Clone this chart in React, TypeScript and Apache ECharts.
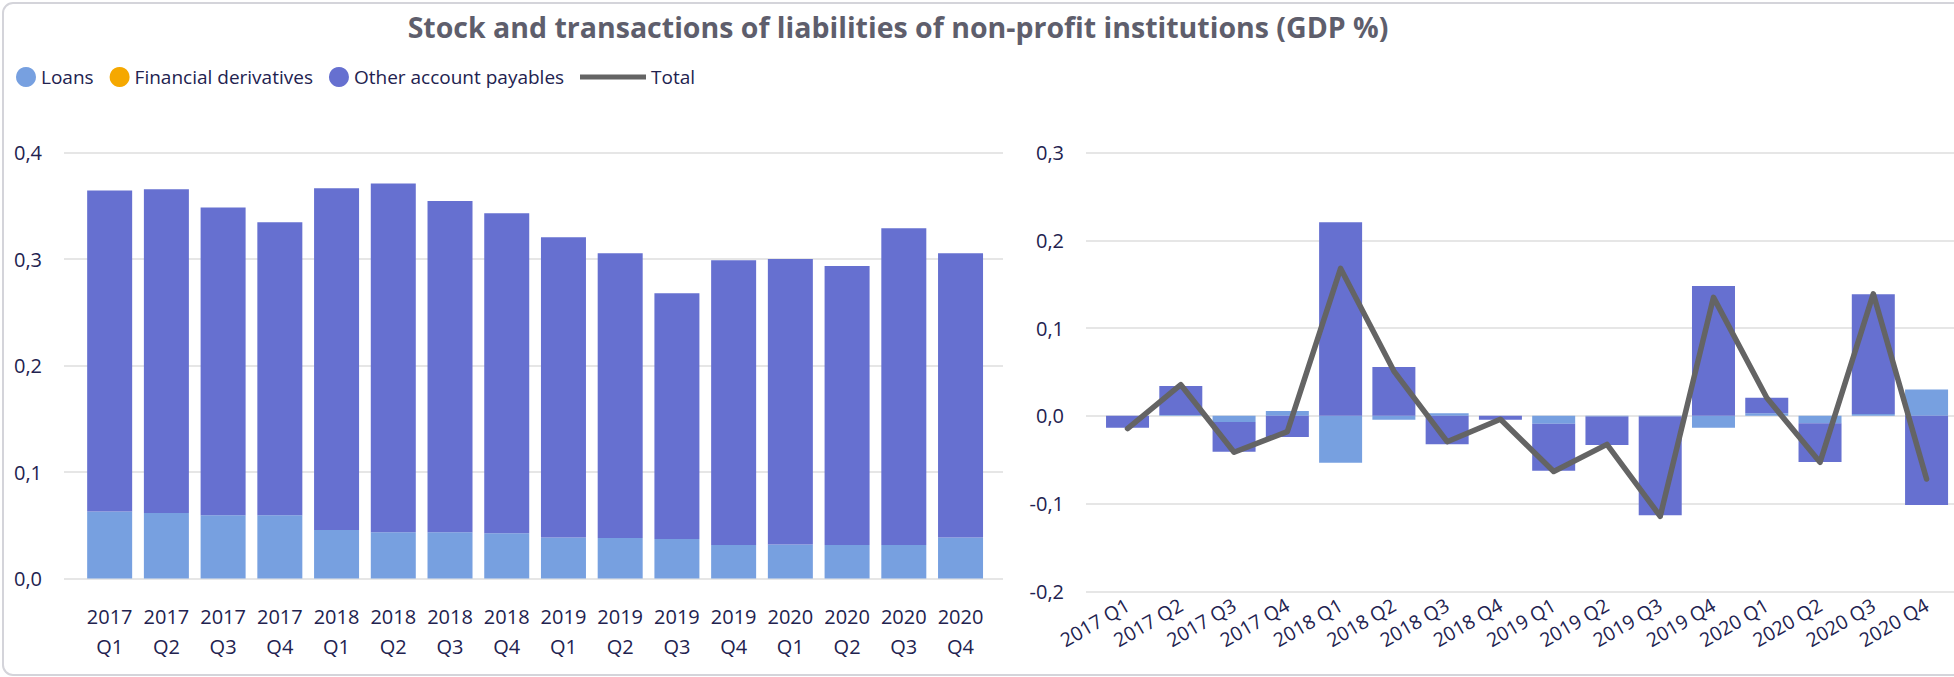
import React, { useEffect, useRef } from "react";
import * as echarts from "echarts";

const categories = [
  "2017 Q1", "2017 Q2", "2017 Q3", "2017 Q4",
  "2018 Q1", "2018 Q2", "2018 Q3", "2018 Q4",
  "2019 Q1", "2019 Q2", "2019 Q3", "2019 Q4",
  "2020 Q1", "2020 Q2", "2020 Q3", "2020 Q4",
];

// Stock (left chart), % of GDP
const stockLoans = [0.063, 0.0615, 0.0595, 0.0595, 0.0455, 0.0435, 0.0435, 0.0425, 0.0385, 0.038, 0.037, 0.0315, 0.032, 0.0315, 0.0315, 0.0385];
const stockDerivatives = [0, 0, 0, 0, 0, 0, 0, 0, 0, 0, 0, 0, 0, 0, 0, 0];
const stockOther = [0.3015, 0.304, 0.289, 0.275, 0.321, 0.3275, 0.311, 0.3005, 0.282, 0.2675, 0.231, 0.2675, 0.268, 0.262, 0.2975, 0.267];

// Transactions (right chart), % of GDP
const flowLoans = [0, 0.001, -0.007, 0.0055, -0.0535, -0.0045, 0.003, 0, -0.009, -0.0008, -0.0008, -0.0135, 0.003, -0.0085, 0.002, 0.03];
const flowDerivatives = [0, 0, 0, 0, 0, 0, 0, 0, 0, 0, 0, 0, 0, 0, 0, 0];
const flowOther = [-0.0135, 0.033, -0.034, -0.024, 0.2205, 0.0555, -0.0325, -0.0045, -0.0535, -0.0325, -0.1125, 0.148, 0.0175, -0.044, 0.1365, -0.1015];
const flowTotal = [-0.0145, 0.0355, -0.0415, -0.018, 0.168, 0.051, -0.0295, -0.004, -0.0635, -0.0325, -0.1145, 0.135, 0.0205, -0.053, 0.139, -0.072];

const TITLE = "Stock and transactions of liabilities of non-profit institutions (GDP %)";
const FONT = "'Open Sans', sans-serif";
const TEXT = "#22224f";
const C_LOANS = "#77a0e0";
const C_DERIV = "#f5a800";
const C_OTHER = "#6670d0";
const C_TOTAL = "#646464";
const GRID_LINE = "#e6e6e6";

const fmt = (v: number) => v.toFixed(1).replace(".", ",");

export default function App() {
  const ref = useRef<HTMLDivElement>(null);
  useEffect(() => {
    if (!ref.current) return;
    const chart = echarts.init(ref.current, null, { renderer: "svg" });
    const yLabel = { color: TEXT, fontSize: 20, fontFamily: FONT, margin: 22, formatter: fmt };
    const hiddenY = (min: number, max: number) => ({
      type: "value", min, max, show: false, splitLine: { show: false },
    });
    const visY = (gridIndex: number, min: number, max: number) => ({
      type: "value", gridIndex, min, max, interval: 0.1,
      axisLine: { show: false }, axisTick: { show: false },
      axisLabel: yLabel,
      splitLine: { show: true, lineStyle: { color: GRID_LINE, width: 2 } },
    });
    const barBase = { type: "bar", animation: false };
    const option: any = {
      animation: false,
      backgroundColor: "#ffffff",
      graphic: [
        {
          type: "rect", silent: true,
          shape: { x: 3, y: 3, width: 1990, height: 672, r: 10 },
          style: { fill: "none", stroke: "#d4d4da", lineWidth: 2 },
        },
        {
          type: "text", x: 898, y: 27,
          style: {
            text: TITLE, textAlign: "center", textVerticalAlign: "middle",
            font: `bold 28.5px ${FONT}`, fill: "#5e5e6c",
          },
        },
      ],
      legend: [
        {
          data: ["Loans", "Financial derivatives", "Other account payables"],
          left: 16, top: 67, padding: 0, itemGap: 16,
          icon: "circle", itemWidth: 20, itemHeight: 20,
          textStyle: { color: TEXT, fontSize: 19, fontFamily: FONT, lineHeight: 20 },
        },
        {
          data: ["Total"],
          left: 580, top: 67, padding: 0,
          icon: "rect", itemWidth: 66, itemHeight: 5,
          textStyle: { color: TEXT, fontSize: 19, fontFamily: FONT, lineHeight: 20 },
        },
      ],
      grid: [
        { left: 64, top: 152.6, width: 939, height: 425.9 },
        { left: 81.3, top: 152.6, width: 907.6, height: 425.9 },
        { left: 1086, top: 152.6, width: 900, height: 438.7 },
        { left: 1100.9, top: 152.6, width: 852.3, height: 438.7 },
      ],
      xAxis: [
        { type: "value", gridIndex: 0, show: false },
        {
          type: "category", gridIndex: 1, data: categories,
          axisLine: { show: false }, axisTick: { show: false },
          axisLabel: {
            color: TEXT, fontSize: 20, fontFamily: FONT, lineHeight: 30, margin: 23,
            interval: 0, formatter: (v: string) => v.replace(" ", "\n"),
          },
        },
        { type: "value", gridIndex: 2, show: false },
        {
          type: "category", gridIndex: 3, data: categories,
          axisLine: { show: false }, axisTick: { show: false },
          axisLabel: {
            color: TEXT, fontSize: 19.5, fontFamily: FONT, margin: 12,
            interval: 0, rotate: 30,
          },
        },
      ],
      yAxis: [
        visY(0, 0, 0.4),
        { ...hiddenY(0, 0.4), gridIndex: 1 },
        visY(2, -0.2, 0.3),
        { ...hiddenY(-0.2, 0.3), gridIndex: 3 },
      ],
      series: [
        { ...barBase, name: "Loans", xAxisIndex: 1, yAxisIndex: 1, stack: "stock", barWidth: 45, data: stockLoans, itemStyle: { color: C_LOANS } },
        { ...barBase, name: "Financial derivatives", xAxisIndex: 1, yAxisIndex: 1, stack: "stock", barWidth: 45, data: stockDerivatives, itemStyle: { color: C_DERIV } },
        { ...barBase, name: "Other account payables", xAxisIndex: 1, yAxisIndex: 1, stack: "stock", barWidth: 45, data: stockOther, itemStyle: { color: C_OTHER } },
        { ...barBase, name: "Loans", xAxisIndex: 3, yAxisIndex: 3, stack: "flow", stackStrategy: "samesign", barWidth: 43, data: flowLoans, itemStyle: { color: C_LOANS } },
        { ...barBase, name: "Financial derivatives", xAxisIndex: 3, yAxisIndex: 3, stack: "flow", stackStrategy: "samesign", barWidth: 43, data: flowDerivatives, itemStyle: { color: C_DERIV } },
        { ...barBase, name: "Other account payables", xAxisIndex: 3, yAxisIndex: 3, stack: "flow", stackStrategy: "samesign", barWidth: 43, data: flowOther, itemStyle: { color: C_OTHER } },
        {
          type: "line", name: "Total", xAxisIndex: 3, yAxisIndex: 3, data: flowTotal,
          symbol: "none", z: 5,
          itemStyle: { color: C_TOTAL },
          lineStyle: { color: C_TOTAL, width: 5.5, cap: "round", join: "round" },
        },
      ],
    };
    chart.setOption(option);
    return () => chart.dispose();
  }, []);
  return (
    <div
      ref={ref}
      style={{ position: "absolute", left: 0, top: 0, width: 1954, height: 677 }}
    />
  );
}
